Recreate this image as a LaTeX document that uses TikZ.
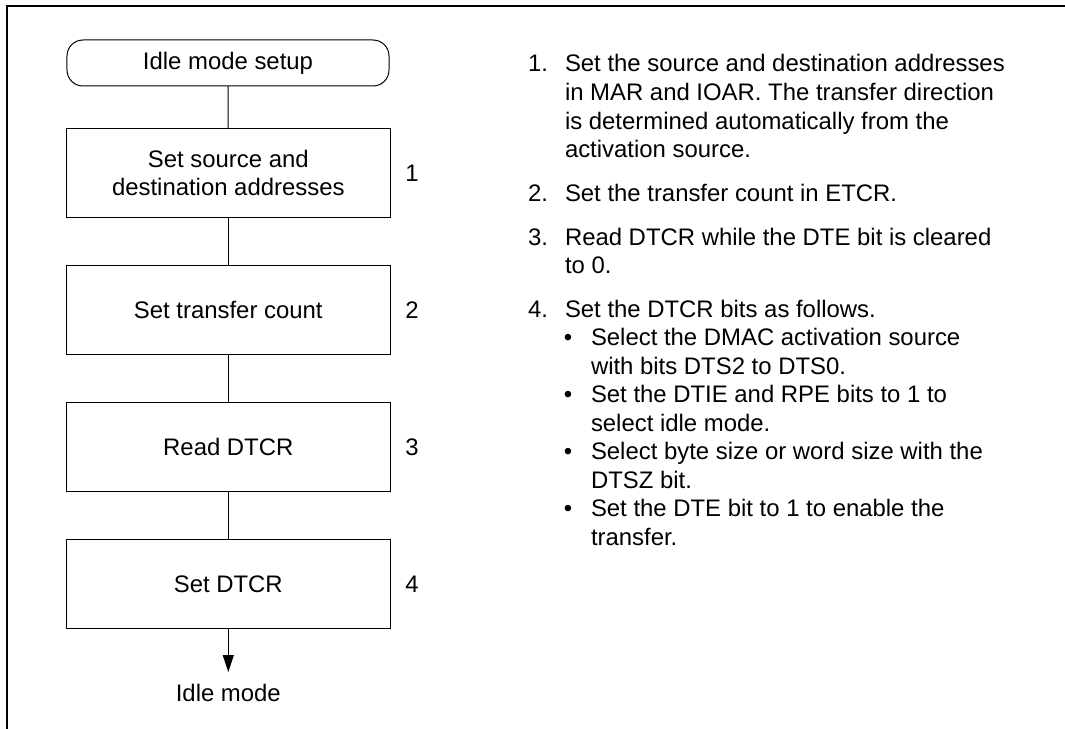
\documentclass[tikz,border=0pt]{standalone}
\usepackage{fontspec}
\setmainfont{Liberation Sans}
\usetikzlibrary{arrows.meta}
\newcommand\fsz{\fontsize{23.9bp}{28.6bp}\selectfont}
\tikzset{
  every node/.style={font=\fsz, inner sep=0pt, outer sep=0pt},
  stepbox/.style={draw, line width=1bp, minimum width=324.5bp, minimum height=89bp, align=center},
  termbox/.style={draw, line width=1bp, minimum width=322bp, minimum height=46bp, rounded corners=16bp},
  link/.style={line width=1bp},
  frameline/.style={line width=2bp},
  num/.style={anchor=base},
  txt/.style={anchor=base west}
}
\begin{document}
\begin{tikzpicture}[x=1bp,y=-1bp]
\useasboundingbox (0,0) rectangle (1065,729);
\coordinate (fa) at (6.5,729);
\coordinate (fb) at (6.5,6.5);
\coordinate (fc) at (1065,6.5);
\draw[frameline] (fa) -- (fb) -- (fc);

\node[termbox] (t0) at (228,63) {Idle mode setup};
\node[stepbox] (b1) at (228.3,173) {Set source and\\destination addresses};
\node[stepbox] (b2) at (228.3,310) {Set transfer count};
\node[stepbox] (b3) at (228.3,447) {Read DTCR};
\node[stepbox] (b4) at (228.3,584) {Set DTCR};
\coordinate (tip) at (228.3,672);
\node (end) at (228.3,693) {Idle mode};

\draw[link] (t0) -- (b1);
\draw[link] (b1) -- (b2);
\draw[link] (b2) -- (b3);
\draw[link] (b3) -- (b4);
\draw[link, -{Triangle[length=17bp,width=11bp]}] (b4) -- (tip);

\node (n1) at (412,173) {1};
\node (n2) at (412,310) {2};
\node (n3) at (412,447) {3};
\node (n4) at (412,584) {4};

\node[txt] (i1) at (528,72) {1.};
\node[txt] (l1a) at (565,72) {Set the source and destination addresses};
\node[txt] (l1b) at (565,100.6) {in MAR and IOAR. The transfer direction};
\node[txt] (l1c) at (565,129.2) {is determined automatically from the};
\node[txt] (l1d) at (565,157.8) {activation source.};
\node[txt] (i2) at (528,201.5) {2.};
\node[txt] (l2a) at (565,201.5) {Set the transfer count in ETCR.};
\node[txt] (i3) at (528,245) {3.};
\node[txt] (l3a) at (565,245) {Read DTCR while the DTE bit is cleared};
\node[txt] (l3b) at (565,273.5) {to 0.};
\node[txt] (i4) at (528,317) {4.};
\node[txt] (l4a) at (565,317) {Set the DTCR bits as follows.};
\node[num] (d1) at (568,345.5) {•};
\node[txt] (l5a) at (591,345.5) {Select the DMAC activation source};
\node[txt] (l5b) at (591,374) {with bits DTS2 to DTS0.};
\node[num] (d2) at (568,402.5) {•};
\node[txt] (l6a) at (591,402.5) {Set the DTIE and RPE bits to 1 to};
\node[txt] (l6b) at (591,431) {select idle mode.};
\node[num] (d3) at (568,459.5) {•};
\node[txt] (l7a) at (591,459.5) {Select byte size or word size with the};
\node[txt] (l7b) at (591,488) {DTSZ bit.};
\node[num] (d4) at (568,516.5) {•};
\node[txt] (l8a) at (591,516.5) {Set the DTE bit to 1 to enable the};
\node[txt] (l8b) at (591,545) {transfer.};
\end{tikzpicture}
\end{document}
